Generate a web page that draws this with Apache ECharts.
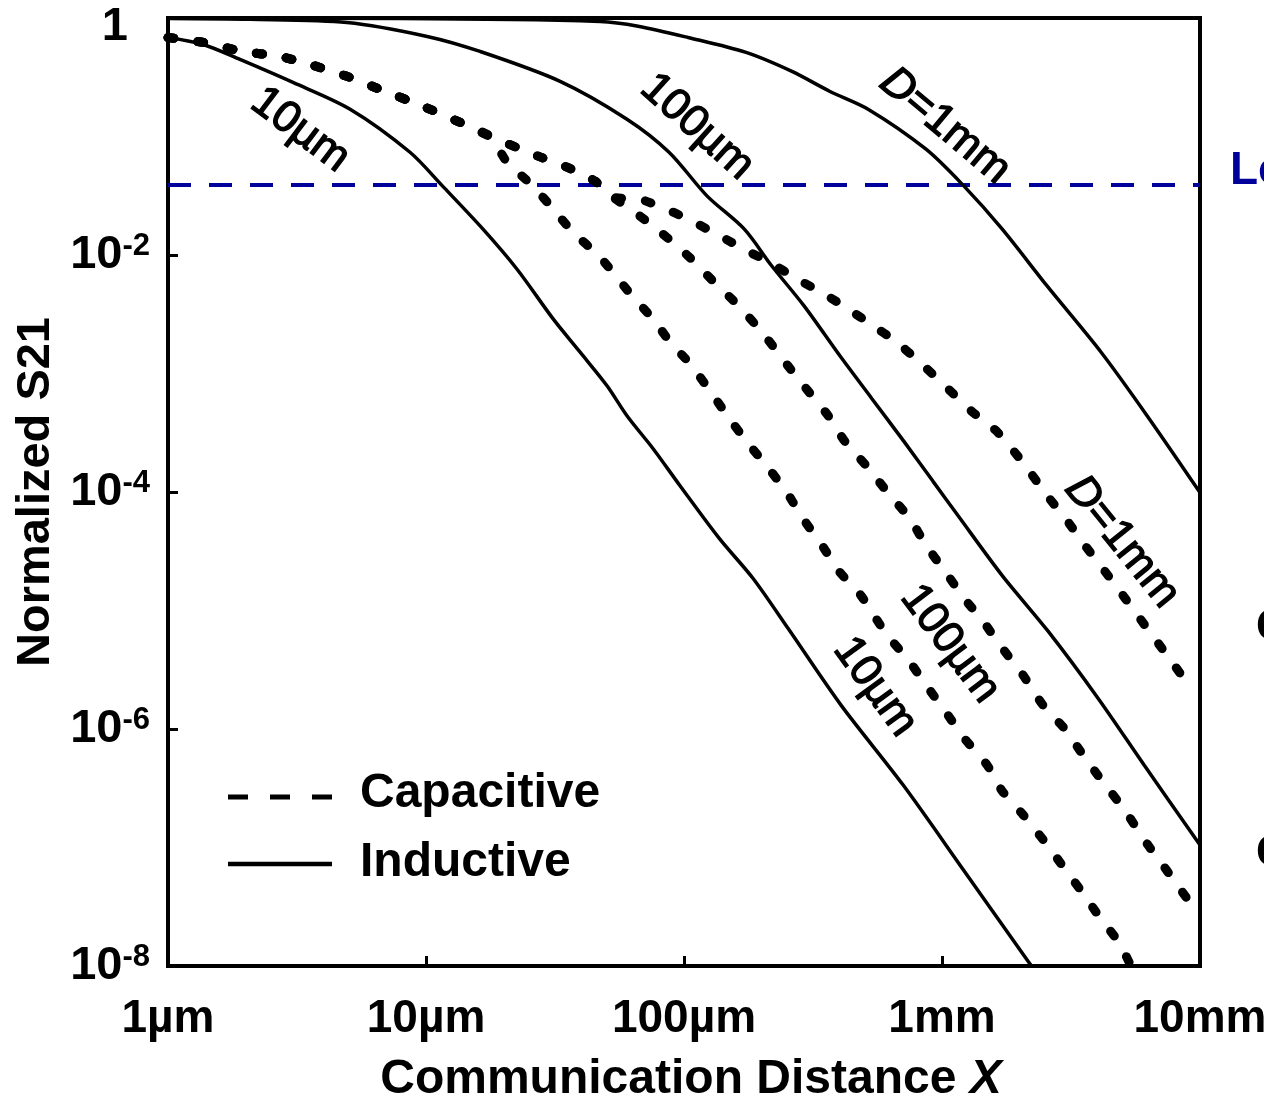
<!DOCTYPE html>
<html><head><meta charset="utf-8">
<script src="https://cdn.jsdelivr.net/npm/echarts@6/dist/echarts.min.js"></script>
<style>html,body{margin:0;padding:0;background:#fff;overflow:hidden}#c{width:1264px;height:1109px}</style>
</head><body><div id="c"></div>
<script>
// x in micrometres, y = normalized S21
const xTickValues = [1, 10, 100, 1000, 10000];
const xTickLabels = ['1µm', '10µm', '100µm', '1mm', '10mm'];
const yTickValues = [1, 1e-2, 1e-4, 1e-6, 1e-8];
const lossLimit = 0.039;

const inductive10um = [[1,0.685],[1.37,0.598],[1.90,0.447],[3.05,0.286],[5.08,0.170],[8.67,0.0736],[11.6,0.0381],[16.6,0.0166],[22.5,7.62e-3],[31.1,2.89e-3],[39.5,1.52e-3],[50.3,7.88e-4],[60.1,4.4e-4],[75.8,2.33e-4],[96.5,1.13e-4],[137,4.06e-5],[185,1.87e-5],[253,7.07e-6],[406,1.59e-6],[706,3.38e-7],[1217,6.37e-8],[2135,1.13e-8],[2314,8.9e-9]];
const inductive100um = [[1,0.99],[2.08,0.975],[4.94,0.916],[10.1,0.699],[16.2,0.522],[33.1,0.292],[60.1,0.140],[87.5,0.0737],[123,0.0314],[171,0.0166],[219,8.07e-3],[292,3.72e-3],[402,1.41e-3],[535,6.13e-4],[713,2.66e-4],[923,1.23e-4],[1153,6.33e-5],[1709,1.98e-5],[2577,6.69e-6],[4024,1.82e-6],[6072,4.97e-7],[10000,1.05e-7]];
const inductive1mm = [[1,0.995],[7.94,0.99],[47.3,0.935],[66.4,0.853],[103.7,0.685],[174,0.512],[262,0.354],[368,0.240],[517,0.170],[867,0.0781],[1217,0.0381],[1709,0.0166],[2554,5.48e-3],[4130,1.52e-3],[6235,4.41e-4],[10000,9.9e-5]];

const capacitiveStart = [[1,0.685],[1.37,0.622],[1.95,0.522],[2.72,0.474],[3.55,0.406],[4.94,0.322],[6.63,0.250],[9.73,0.180],[13.5,0.132],[17.7,0.1005]];
const capacitive10um = [[20.6,0.0607],[26.0,0.0381],[31.1,0.0244],[37.1,0.0156],[47.2,9.63e-3],[62.9,4.52e-3],[75.8,2.89e-3],[88.2,1.85e-3],[105.5,1.21e-3],[126,7.16e-4],[148,4.33e-4],[175,2.66e-4],[210,1.64e-4],[249,1.01e-4],[289,5.98e-5],[343,3.54e-5],[399,2.14e-5],[485,1.34e-5],[612,6.19e-6],[732,3.96e-6],[867,2.35e-6],[1027,1.42e-6],[1217,8.4e-7],[1494,4.98e-7],[1709,3.01e-7],[2061,1.89e-7],[2485,1.14e-7],[2970,6.75e-8],[3458,4.32e-8],[4095,2.56e-8],[4853,1.58e-8],[5400,1.0e-8]];
const capacitiveUpper = [[27.2,0.0682],[35.2,0.0551],[45.2,0.0420],[53.1,0.0308]];
const capacitive100um = [[67.5,0.0213],[82.9,0.0150],[103.7,9.82e-3],[129.5,6.04e-3],[160,3.87e-3],[200,2.25e-3],[253,1.16e-3],[302,7.16e-4],[362,4.41e-4],[421,2.66e-4],[512,1.64e-4],[629,9.35e-5],[751,5.98e-5],[867,3.54e-5],[1027,2.14e-5],[1217,1.27e-5],[1442,8.12e-6],[1678,5.1e-6],[2061,2.85e-6],[2462,1.59e-6],[2970,1.02e-6],[3521,6.04e-7],[4171,3.65e-7],[5031,2.16e-7],[6286,1.05e-7],[7447,6.37e-8],[9140,3.43e-8]];
const capacitive1mm = [[67.5,0.0296],[90.6,0.0230],[109,0.0190],[138,0.01446],[179,0.0106],[214,8.73e-3],[274,6.28e-3],[349,4.7e-3],[444,3.38e-3],[526,2.63e-3],[657,1.89e-3],[815,1.26e-3],[1027,7.88e-4],[1307,4.77e-4],[1634,3.23e-4],[2043,1.81e-4],[2554,9.35e-5],[3051,5.75e-5],[3581,3.54e-5],[4282,2.14e-5],[5121,1.27e-5],[6235,7.08e-6],[7447,4.2e-6],[8750,2.59e-6],[9140,2.3e-6]];

const FF = '"Liberation Sans", Arial, Helvetica, sans-serif';
const chart = echarts.init(document.getElementById('c'), null, {renderer: 'canvas'});

function solid(name, data) {
  return {name, type: 'line', data, showSymbol: false, symbol: 'none', smooth: 0.3, z: 3,
    lineStyle: {color: '#000', width: 3.5}};
}
function dotted(name, data) {
  return {name, type: 'line', data, showSymbol: false, symbol: 'none', smooth: 0.2, z: 4,
    lineStyle: {color: '#000', width: 9, type: [6, 24], cap: 'round', join: 'round'}};
}

// rot: clockwise degrees
function txt(text, x, y, rot, opts) {
  opts = opts || {};
  return {type: 'text', x, y, rotation: -rot * Math.PI / 180, z: 10,
    style: Object.assign({text, font: (opts.weight || 'normal') + ' ' + (opts.size || 44) + 'px ' + FF,
      fill: opts.fill || '#000', textAlign: opts.align || 'center', textVerticalAlign: 'middle',
      align: opts.align || 'center', verticalAlign: 'middle'}, opts.style || {})};
}
const thick = {stroke: '#000', lineWidth: 1.3};
const italD = {rich: {i: {fontStyle: 'italic', fontSize: 44, fontFamily: FF, textStrokeColor: '#000', textStrokeWidth: 1.3}}};

const option = {
  backgroundColor: '#fff',
  animation: false,
  grid: {left: 168, right: 64, top: 18, bottom: 143, show: true, borderColor: '#000', borderWidth: 4,
    containLabel: false, outerBoundsMode: 'none'},
  xAxis: {
    type: 'log', logBase: 10, min: 1, max: 10000,
    name: 'Communication Distance {i|X}', nameLocation: 'middle', nameGap: 90,
    nameTextStyle: {fontFamily: FF, fontSize: 48, fontWeight: 'bold', color: '#000', padding: [0, 0, 0, 14],
      rich: {i: {fontFamily: FF, fontSize: 48, fontWeight: 'bold', fontStyle: 'italic', color: '#000'}}},
    axisLine: {show: true, lineStyle: {color: '#000', width: 4}},
    axisTick: {show: true, inside: true, length: 10, lineStyle: {color: '#000', width: 3}},
    minorTick: {show: false},
    splitLine: {show: false},
    axisLabel: {margin: 30, color: '#000', fontFamily: FF, fontSize: 46, fontWeight: 'bold',
      formatter: v => { const i = xTickValues.findIndex(t => Math.abs(Math.log10(t) - Math.log10(v)) < 1e-6); return i >= 0 ? xTickLabels[i] : ''; }}
  },
  yAxis: {
    type: 'log', logBase: 10, min: 1e-8, max: 1, interval: 2,
    name: 'Normalized S21', nameLocation: 'middle', nameGap: 100,
    nameTextStyle: {fontFamily: FF, fontSize: 47, fontWeight: 'bold', color: '#000'},
    axisLine: {show: true, lineStyle: {color: '#000', width: 4}},
    axisTick: {show: true, inside: true, length: 10, lineStyle: {color: '#000', width: 3}},
    minorTick: {show: false},
    splitLine: {show: false},
    axisLabel: {margin: 18, color: '#000',
      formatter: v => { const e = Math.round(Math.log10(v)); return e === 0 ? '{one|1}{sp|}' : '{b|10}{s|' + e + '}'; },
      rich: {
        b: {fontFamily: FF, fontSize: 47, fontWeight: 'bold', color: '#000'},
        s: {fontFamily: FF, fontSize: 31, fontWeight: 'bold', color: '#000', padding: [0, 0, 17, 0]},
        one: {fontFamily: FF, fontSize: 47, fontWeight: 'bold', color: '#000', padding: [18, 0, 0, 0]},
        sp: {width: 22}
      }}
  },
  series: [
    solid('Inductive 10µm', inductive10um),
    solid('Inductive 100µm', inductive100um),
    solid('Inductive 1mm', inductive1mm),
    dotted('Capacitive 10µm', capacitiveStart.concat(capacitive10um)),
    dotted('Capacitive 100µm', capacitiveStart.concat(capacitiveUpper, capacitive100um)),
    dotted('Capacitive 1mm', capacitiveStart.concat(capacitiveUpper, capacitive1mm)),
    {name: 'Limit', type: 'line', data: [[1, lossLimit], [10000, lossLimit]], showSymbol: false, symbol: 'none', z: 2,
      lineStyle: {color: '#00009a', width: 4, type: [23, 18]}}
  ],
  graphic: [
    // legend
    {type: 'line', shape: {x1: 228, y1: 797, x2: 332, y2: 797}, style: {stroke: '#000', lineWidth: 5, lineDash: [20, 22]}},
    {type: 'line', shape: {x1: 228, y1: 864, x2: 332, y2: 864}, style: {stroke: '#000', lineWidth: 4.5}},
    txt('Capacitive', 360, 794, 0, {size: 48, weight: 'bold', align: 'left'}),
    txt('Inductive', 360, 863, 0, {size: 48, weight: 'bold', align: 'left'}),
    // curve labels
    txt('10µm', 300, 130, 37, {style: thick}),
    txt('100µm', 697, 127, 42, {style: thick}),
    txt('{i|D}=1mm', 945, 126, 40, {style: Object.assign({}, thick, italD)}),
    txt('{i|D}=1mm', 1122, 542, 51, {style: Object.assign({}, thick, italD)}),
    txt('100µm', 950, 644, 53, {style: thick}),
    txt('10µm', 875, 687, 54, {style: thick}),
    // labels beyond the right edge
    txt('Lo', 1230, 171, 0, {size: 46, weight: 'bold', align: 'left', fill: '#00009a'}),
    txt('C', 1256, 628, 0, {size: 44, weight: 'bold', align: 'left'}),
    txt('C', 1256, 854, 0, {size: 44, weight: 'bold', align: 'left'})
  ]
};
chart.setOption(option);
</script></body></html>
